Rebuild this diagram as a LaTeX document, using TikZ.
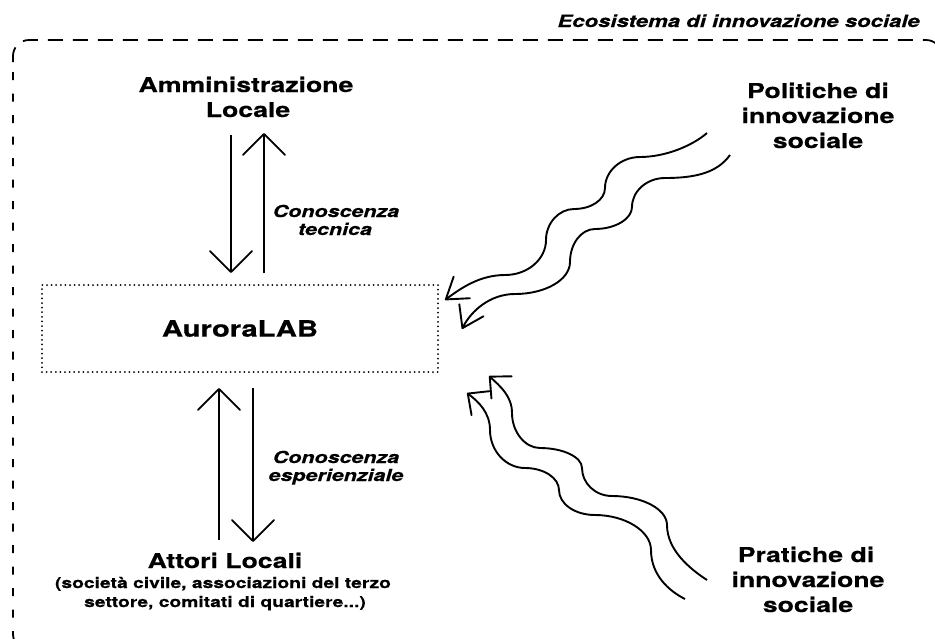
\documentclass[tikz,border=0pt]{standalone}
\usepackage{fontspec}
\setmainfont{TeX Gyre Heros}[FakeStretch=1.3, BoldFeatures={FakeBold=0.4}, BoldItalicFeatures={FakeBold=0.4}]
\usetikzlibrary{arrows.meta}
\begin{document}
\begin{tikzpicture}[x=1pt,y=-1pt,
  lbl/.style={font=\bfseries\fontsize{20.5}{24}\selectfont, anchor=base, inner sep=0pt},
  ital/.style={font=\bfseries\itshape\fontsize{16.5}{19}\selectfont, anchor=base, inner sep=0pt},
  sublbl/.style={font=\bfseries\fontsize{14.8}{17}\selectfont, anchor=base, inner sep=0pt},
  flow/.style={line width=1.8pt, -{Straight Barb[length=21pt,width=42pt,round]}},
  wavetop/.style={line width=1.9pt, -{Straight Barb[length=20pt,width=27pt,round]}},
  wavebot/.style={line width=1.9pt, -{Straight Barb[length=16pt,width=30pt,round]}},
  border/.style={line width=1.8pt},
  dotbox/.style={draw, line width=2pt, line cap=round, dash pattern=on 0pt off 4.6pt}]
\useasboundingbox (0,0) rectangle (935,638);

% ecosystem border
\draw[border, dash pattern=on 15pt off 10pt, rounded corners=16pt] (13,62) -- (13,40) -- (942,40) -- (942,62);
\draw[border, dash pattern=on 8pt off 13.5pt, rounded corners=16pt] (13,72) -- (13,650) -- (40,650);
\node[font=\bfseries\itshape\fontsize{17}{20}\selectfont, anchor=base east, inner sep=0pt] (title) at (920,27) {Ecosistema di innovazione sociale};

% AuroraLAB
\node[dotbox, minimum width=396pt, minimum height=87pt, font=\bfseries\fontsize{22.5}{26}\selectfont] (lab) at (240,328.5) {AuroraLAB};

% Amministrazione
\node[lbl] (amm1) at (246,92) {Amministrazione};
\node[lbl] (amm2) at (248,117) {Locale};
\coordinate (d1s) at (231,135);
\coordinate (d1e) at (231,273);
\coordinate (u1s) at (264,273);
\coordinate (u1e) at (264,133);
\draw[flow] (d1s) -- (d1e);
\draw[flow] (u1s) -- (u1e);
\node[ital] (ct1) at (336,217) {Conoscenza};
\node[ital] (ct2) at (335,235) {tecnica};

% Attori locali
\coordinate (u2s) at (219,540);
\coordinate (u2e) at (219,388);
\coordinate (d2s) at (253,388);
\coordinate (d2e) at (253,542);
\draw[flow] (u2s) -- (u2e);
\draw[flow] (d2s) -- (d2e);
\node[ital] (ce1) at (336,463) {Conoscenza};
\node[ital] (ce2) at (336,481) {esperienziale};
\node[lbl] (att1) at (225,568) {Attori Locali};
\node[sublbl] (att2) at (223,588) {(società civile, associazioni del terzo};
\node[sublbl] (att3) at (225,607) {settore, comitati di quartiere...)};

% Politiche
\node[lbl] (pol1) at (818,98) {Politiche di};
\node[lbl] (pol2) at (818,123) {innovazione};
\node[lbl] (pol3) at (818,148) {sociale};
\coordinate (pa0) at (707,133);
\coordinate (pa6) at (445,300);
\coordinate (pb0) at (730,155);
\coordinate (pb6) at (462,329);
\draw[wavetop] (pa0) .. controls (692,146) and (665,157) .. (640,157)
  .. controls (621,157) and (605,171) .. (605,188)
  .. controls (605,200) and (591,209) .. (574,209)
  .. controls (559,209) and (546,223) .. (546,240)
  .. controls (546,259) and (528,275) .. (505,275)
  .. controls (480,275) and (461,288) .. (pa6);
\draw[wavetop] (pb0) .. controls (717,173) and (695,178) .. (665,178)
  .. controls (647,178) and (632,191) .. (632,207)
  .. controls (632,219) and (615,229) .. (595,229)
  .. controls (581,229) and (570,244) .. (570,262)
  .. controls (570,280) and (545,294) .. (515,294)
  .. controls (490,294) and (471,311) .. (pb6);

% Pratiche
\node[lbl] (pra1) at (806,562) {Pratiche di};
\node[lbl] (pra2) at (808,587) {innovazione};
\node[lbl] (pra3) at (808,612) {sociale};
\coordinate (qa0) at (685,599);
\coordinate (qa6) at (467,393);
\coordinate (qb0) at (707,580);
\coordinate (qb6) at (489,376);
\draw[wavebot] (qa0) .. controls (669,591) and (651,575) .. (651,550)
  .. controls (651,531) and (625,515) .. (595,515)
  .. controls (575,515) and (559,504) .. (559,490)
  .. controls (559,478) and (544,468) .. (525,468)
  .. controls (506,468) and (490,451) .. (490,430)
  .. controls (490,413) and (479,402) .. (qa6);
\draw[wavebot] (qb0) .. controls (690,569) and (667,550) .. (667,525)
  .. controls (667,509) and (642,496) .. (612,496)
  .. controls (595,496) and (582,483) .. (582,468)
  .. controls (582,457) and (563,448) .. (540,448)
  .. controls (525,448) and (512,432) .. (512,413)
  .. controls (512,396) and (500,386) .. (qb6);
\end{tikzpicture}
\end{document}
